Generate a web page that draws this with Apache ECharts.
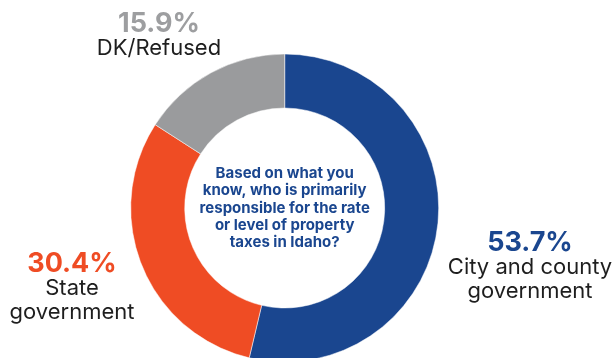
<!DOCTYPE html>
<html>
<head>
<meta charset="utf-8">
<script src="https://cdn.jsdelivr.net/npm/echarts@6/dist/echarts.min.js"></script>
<style>
  html, body { margin: 0; padding: 0; background: #fff; }
  #chart { width: 616px; height: 358px; }
</style>
</head>
<body>
<div id="chart"></div>
<script>
// Survey answers: who sets property tax levels in Idaho
const categories = ['City and county\ngovernment', 'State\ngovernment', 'DK/Refused'];
const shares = [53.7, 30.4, 15.9];
const question = 'Based on what you\nknow, who is primarily\nresponsible for the rate\nor level of property\ntaxes in Idaho?';

const sliceColors = ['#1a468f', '#ef4c24', '#9a9b9d'];
const pctColors = ['#1a468f', '#ef4c24', '#9d9ea0'];
// label anchor points (block centres) for each slice
const labelAnchors = [[530, 267], [72, 288], [159, 36]];

const FONT = 'Inter';
const chart = echarts.init(document.getElementById('chart'));

chart.setOption({
  animation: false,
  series: [{
    type: 'pie',
    center: [284.7, 208],
    radius: [100, 154],
    startAngle: 90,
    clockwise: true,
    avoidLabelOverlap: false,
    itemStyle: { borderColor: '#fff', borderWidth: 0.5 },
    emphasis: { disabled: true },
    labelLine: { show: false },
    data: categories.map((c, i) => ({
      name: c,
      value: shares[i],
      itemStyle: { color: sliceColors[i] },
      label: {
        rich: {
          pct: { color: pctColors[i], fontFamily: FONT, fontWeight: 700, fontSize: 27, lineHeight: 24, align: 'center' },
          name: { color: '#1e1e1e', fontFamily: FONT, fontWeight: 400, fontSize: 22, lineHeight: 24, align: 'center' }
        }
      }
    })),
    label: {
      show: true,
      position: 'outside',
      formatter: p => '{pct|' + p.value.toFixed(1) + '%}\n' +
        p.name.split('\n').map(s => '{name|' + s + '}').join('\n')
    },
    labelLayout: p => ({
      x: labelAnchors[p.dataIndex][0],
      y: labelAnchors[p.dataIndex][1],
      align: 'center',
      verticalAlign: 'middle',
      hideOverlap: false
    })
  }],
  graphic: [{
    type: 'text',
    x: 284.7,
    y: 208,
    style: {
      text: question,
      fill: '#1a468f',
      font: '700 15px ' + FONT,
      lineHeight: 17.3,
      align: 'center',
      verticalAlign: 'middle'
    }
  }]
});
</script>
</body>
</html>
